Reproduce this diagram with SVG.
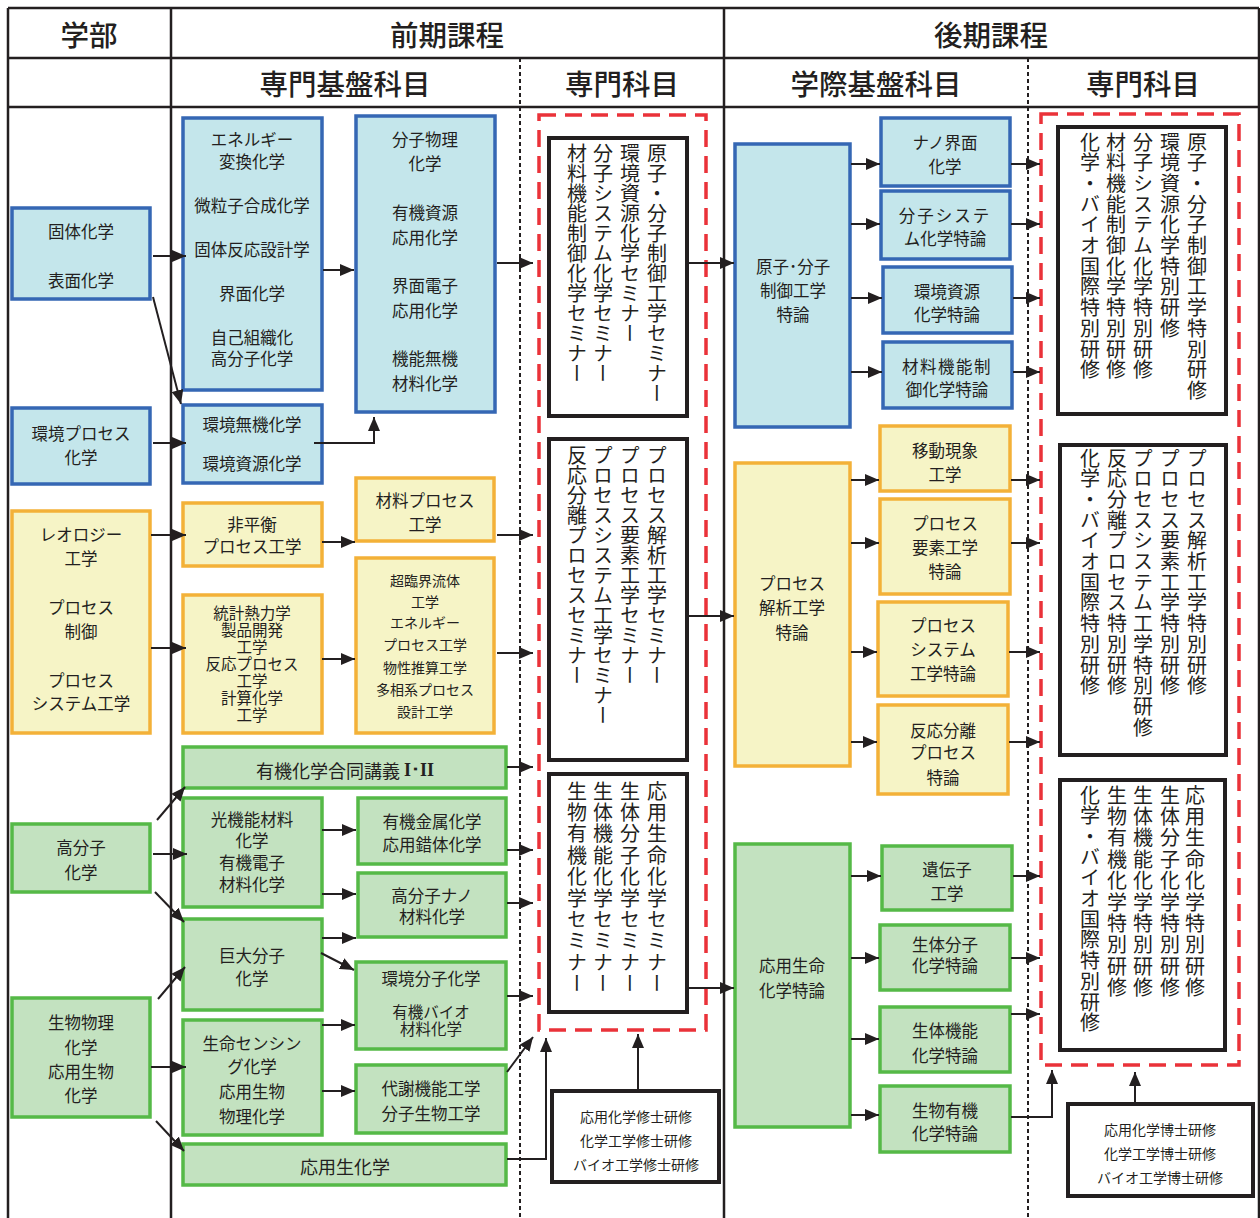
<svg xmlns="http://www.w3.org/2000/svg" width="1260" height="1218" viewBox="0 0 1260 1218">
<style>
text{font-family:"Noto Sans CJK JP","Noto Sans",sans-serif;fill:#231f20;}
.h{font-size:28.5px;font-weight:500;text-anchor:middle;dominant-baseline:central;}
.t{font-size:16.5px;text-anchor:middle;dominant-baseline:central;}
.tt{font-size:15.5px;text-anchor:middle;dominant-baseline:central;}
.s{font-size:14px;text-anchor:middle;dominant-baseline:central;}
.l{font-size:18px;text-anchor:middle;dominant-baseline:central;}
.vt{font-size:20px;writing-mode:vertical-rl;}
.vt2{font-size:20px;writing-mode:vertical-rl;letter-spacing:0.7px;}
.grid{stroke:#231f20;stroke-width:2.5;fill:none;}
.dot{stroke:#231f20;stroke-width:2;stroke-dasharray:4 3;fill:none;}
.blue{fill:#c4e6eb;stroke:#3567b4;stroke-width:3.5;}
.or{fill:#f6f4c6;stroke:#f3b138;stroke-width:3.5;}
.gr{fill:#c3e2c0;stroke:#55b947;stroke-width:3.5;}
.bk{fill:#fff;stroke:#231f20;stroke-width:4;}
.red{fill:none;stroke:#ea3239;stroke-width:3.5;stroke-dasharray:17 9;}
.c path{fill:none;stroke:#231f20;stroke-width:2;marker-end:url(#ah);}
</style>
<defs>
<marker id="ah" viewBox="0 0 14 12" refX="14" refY="6" markerWidth="14" markerHeight="12" markerUnits="userSpaceOnUse" orient="auto"><path d="M0,0 L14,6 L0,12 z" fill="#231f20"/></marker>
</defs>
<rect width="1260" height="1218" fill="#fff"/>
<g id="table">
<path class="grid" d="M8,8 V1218 M1259,8 V1218 M8,8 H1259 M8,58 H1259 M8,107 H1259 M171,8 V1218 M724,8 V1218"/>
<path class="dot" d="M520,58 V1218 M1028,58 V1218"/>
<text class="h" x="89" y="33">学部</text>
<text class="h" x="447" y="33">前期課程</text>
<text class="h" x="991" y="33">後期課程</text>
<text class="h" x="345" y="82">専門基盤科目</text>
<text class="h" x="622" y="82">専門科目</text>
<text class="h" x="876" y="82">学際基盤科目</text>
<text class="h" x="1143" y="82">専門科目</text>
</g>
<g id="n-kotai"><rect class="blue" x="12" y="208" width="138" height="91"/><text class="t" x="81" y="231">固体化学</text><text class="t" x="81" y="280">表面化学</text></g>
<g id="n-kankyoproc"><rect class="blue" x="12" y="408" width="138" height="76"/><text class="t" x="81" y="433">環境プロセス</text><text class="t" x="81" y="457">化学</text></g>
<g id="n-rheo"><rect class="or" x="12" y="511" width="138" height="222"/><text class="t" x="81" y="534">レオロジー</text><text class="t" x="81" y="558">工学</text><text class="t" x="81" y="607">プロセス</text><text class="t" x="81" y="631">制御</text><text class="t" x="81" y="680">プロセス</text><text class="t" x="81" y="703">システム工学</text></g>
<g id="n-kobunshi"><rect class="gr" x="12" y="824" width="138" height="68"/><text class="t" x="81" y="847">高分子</text><text class="t" x="81" y="872">化学</text></g>
<g id="n-seibutsu"><rect class="gr" x="12" y="998" width="138" height="119"/><text class="t" x="81" y="1022">生物物理</text><text class="t" x="81" y="1047">化学</text><text class="t" x="81" y="1071">応用生物</text><text class="t" x="81" y="1095">化学</text></g>

<g id="n-energy"><rect class="blue" x="183" y="118" width="139" height="272"/><text class="t" x="252" y="139">エネルギー</text><text class="t" x="252" y="161">変換化学</text><text class="t" x="252" y="205">微粒子合成化学</text><text class="t" x="252" y="249">固体反応設計学</text><text class="t" x="252" y="293">界面化学</text><text class="t" x="252" y="337">自己組織化</text><text class="t" x="252" y="358">高分子化学</text></g>
<g id="n-kankyomuki"><rect class="blue" x="183" y="405" width="139" height="78"/><text class="t" x="252" y="424">環境無機化学</text><text class="t" x="252" y="463">環境資源化学</text></g>
<g id="n-hiheiko"><rect class="or" x="183" y="503" width="139" height="63"/><text class="t" x="252" y="524">非平衡</text><text class="t" x="252" y="546">プロセス工学</text></g>
<g id="n-tokei"><rect class="or" x="183" y="595" width="139" height="138"/><text class="tt" x="252" y="612">統計熱力学</text><text class="tt" x="252" y="629">製品開発</text><text class="tt" x="252" y="646">工学</text><text class="tt" x="252" y="663">反応プロセス</text><text class="tt" x="252" y="680">工学</text><text class="tt" x="252" y="697">計算化学</text><text class="tt" x="252" y="714">工学</text></g>
<g id="n-yuki-godo"><rect class="gr" x="183" y="747" width="323" height="41"/><text class="l" x="345" y="770">有機化学合同講義 <tspan style="font-family:'Liberation Serif',serif;font-weight:bold">I･II</tspan></text></g>
<g id="n-hikari"><rect class="gr" x="183" y="798" width="139" height="109"/><text class="t" x="252" y="819">光機能材料</text><text class="t" x="252" y="840">化学</text><text class="t" x="252" y="862">有機電子</text><text class="t" x="252" y="884">材料化学</text></g>
<g id="n-kyodai"><rect class="gr" x="183" y="919" width="139" height="91"/><text class="t" x="252" y="955">巨大分子</text><text class="t" x="252" y="978">化学</text></g>
<g id="n-seimei"><rect class="gr" x="183" y="1020" width="139" height="115"/><text class="t" x="252" y="1043">生命センシン</text><text class="t" x="252" y="1066">グ化学</text><text class="t" x="252" y="1091">応用生物</text><text class="t" x="252" y="1116">物理化学</text></g>
<g id="n-oyoseika"><rect class="gr" x="183" y="1144" width="323" height="41"/><text class="l" x="345" y="1166">応用生化学</text></g>

<g id="n-bunshibutsuri"><rect class="blue" x="356" y="116" width="139" height="296"/><text class="t" x="425" y="139">分子物理</text><text class="t" x="425" y="163">化学</text><text class="t" x="425" y="212">有機資源</text><text class="t" x="425" y="237">応用化学</text><text class="t" x="425" y="285">界面電子</text><text class="t" x="425" y="310">応用化学</text><text class="t" x="425" y="358">機能無機</text><text class="t" x="425" y="383">材料化学</text></g>
<g id="n-zairyoproc"><rect class="or" x="356" y="478" width="138" height="63"/><text class="t" x="425" y="500">材料プロセス</text><text class="t" x="425" y="524">工学</text></g>
<g id="n-chorinkai"><rect class="or" x="356" y="558" width="138" height="175"/><text class="s" x="425" y="580">超臨界流体</text><text class="s" x="425" y="601">工学</text><text class="s" x="425" y="622">エネルギー</text><text class="s" x="425" y="644">プロセス工学</text><text class="s" x="425" y="667">物性推算工学</text><text class="s" x="425" y="689">多相系プロセス</text><text class="s" x="425" y="711">設計工学</text></g>
<g id="n-yukikinzoku"><rect class="gr" x="358" y="798" width="148" height="66"/><text class="t" x="432" y="821">有機金属化学</text><text class="t" x="432" y="844">応用錯体化学</text></g>
<g id="n-kobunshinano"><rect class="gr" x="358" y="873" width="148" height="64"/><text class="t" x="432" y="895">高分子ナノ</text><text class="t" x="432" y="916">材料化学</text></g>
<g id="n-kankyobunshi"><rect class="gr" x="356" y="962" width="150" height="87"/><text class="t" x="431" y="978">環境分子化学</text><text class="tt" x="431" y="1011">有機バイオ</text><text class="tt" x="431" y="1028">材料化学</text></g>
<g id="n-taisha"><rect class="gr" x="356" y="1065" width="150" height="68"/><text class="t" x="431" y="1088">代謝機能工学</text><text class="t" x="431" y="1113">分子生物工学</text></g>

<g id="g-senmon1"><rect class="red" x="539" y="115" width="167" height="915"/></g>
<g id="n-seminar1"><rect class="bk" x="549" y="138" width="138" height="278"/><text class="vt" x="657" y="143">原子・分子制御工学セミナー</text><text class="vt" x="630" y="143">環境資源化学セミナー</text><text class="vt" x="603" y="143">分子システム化学セミナー</text><text class="vt" x="577" y="143">材料機能制御化学セミナー</text></g>
<g id="n-seminar2"><rect class="bk" x="549" y="439" width="138" height="321"/><text class="vt" x="657" y="445">プロセス解析工学セミナー</text><text class="vt" x="630" y="445">プロセス要素工学セミナー</text><text class="vt" x="603" y="445">プロセスシステム工学セミナー</text><text class="vt" x="577" y="445">反応分離プロセスセミナー</text></g>
<g id="n-seminar3"><rect class="bk" x="549" y="774" width="138" height="238"/><text class="vt" x="657" y="781" style="letter-spacing:1.4px">応用生命化学セミナー</text><text class="vt" x="630" y="781" style="letter-spacing:1.4px">生体分子化学セミナー</text><text class="vt" x="603" y="781" style="letter-spacing:1.4px">生体機能化学セミナー</text><text class="vt" x="577" y="781" style="letter-spacing:1.4px">生物有機化学セミナー</text></g>
<g id="n-shushi"><rect class="bk" x="552" y="1091" width="167" height="91"/><text class="s" x="636" y="1116">応用化学修士研修</text><text class="s" x="636" y="1140">化学工学修士研修</text><text class="s" x="636" y="1164">バイオ工学修士研修</text></g>

<g id="n-genshi-toku"><rect class="blue" x="735" y="144" width="115" height="283"/><text class="t" x="793" y="266">原子･分子</text><text class="t" x="793" y="290">制御工学</text><text class="t" x="793" y="314">特論</text></g>
<g id="n-process-toku"><rect class="or" x="735" y="463" width="115" height="303"/><text class="t" x="792" y="583">プロセス</text><text class="t" x="792" y="607">解析工学</text><text class="t" x="792" y="632">特論</text></g>
<g id="n-oyoseimei-toku"><rect class="gr" x="735" y="844" width="115" height="283"/><text class="t" x="792" y="965">応用生命</text><text class="t" x="792" y="990">化学特論</text></g>

<g id="n-nano"><rect class="blue" x="881" y="118" width="129" height="68"/><text class="t" x="945" y="142">ナノ界面</text><text class="t" x="945" y="166">化学</text></g>
<g id="n-bunshisys"><rect class="blue" x="881" y="191" width="129" height="68"/><text class="t" x="945" y="215" style="letter-spacing:2px">分子システ</text><text class="t" x="945" y="238">ム化学特論</text></g>
<g id="n-kankyoshigen"><rect class="blue" x="883" y="267" width="129" height="66"/><text class="t" x="947" y="291">環境資源</text><text class="t" x="947" y="314">化学特論</text></g>
<g id="n-zairyokino"><rect class="blue" x="883" y="342" width="129" height="66"/><text class="t" x="947" y="366" style="letter-spacing:1.5px">材料機能制</text><text class="t" x="947" y="389">御化学特論</text></g>
<g id="n-ido"><rect class="or" x="880" y="426" width="130" height="65"/><text class="t" x="945" y="450">移動現象</text><text class="t" x="945" y="474">工学</text></g>
<g id="n-yoso"><rect class="or" x="880" y="499" width="130" height="95"/><text class="t" x="945" y="523">プロセス</text><text class="t" x="945" y="547">要素工学</text><text class="t" x="945" y="571">特論</text></g>
<g id="n-system"><rect class="or" x="878" y="602" width="130" height="94"/><text class="t" x="943" y="625">プロセス</text><text class="t" x="943" y="649">システム</text><text class="t" x="943" y="673">工学特論</text></g>
<g id="n-hanno"><rect class="or" x="878" y="705" width="130" height="89"/><text class="t" x="943" y="730">反応分離</text><text class="t" x="943" y="752">プロセス</text><text class="t" x="943" y="777">特論</text></g>
<g id="n-idenshi"><rect class="gr" x="882" y="846" width="130" height="64"/><text class="t" x="947" y="869">遺伝子</text><text class="t" x="947" y="893">工学</text></g>
<g id="n-seitaibunshi"><rect class="gr" x="880" y="925" width="130" height="65"/><text class="t" x="945" y="944">生体分子</text><text class="t" x="945" y="965">化学特論</text></g>
<g id="n-seitaikino"><rect class="gr" x="880" y="1007" width="130" height="65"/><text class="t" x="945" y="1030">生体機能</text><text class="t" x="945" y="1055">化学特論</text></g>
<g id="n-seibutsuyuki"><rect class="gr" x="880" y="1086" width="130" height="66"/><text class="t" x="945" y="1110">生物有機</text><text class="t" x="945" y="1133">化学特論</text></g>

<g id="g-senmon2"><rect class="red" x="1041" y="114" width="198" height="951"/></g>
<g id="n-kenshu1"><rect class="bk" x="1058" y="127" width="168" height="287"/><text class="vt2" x="1197" y="132">原子・分子制御工学特別研修</text><text class="vt2" x="1170" y="132">環境資源化学特別研修</text><text class="vt2" x="1143" y="132">分子システム化学特別研修</text><text class="vt2" x="1116" y="132">材料機能制御化学特別研修</text><text class="vt2" x="1090" y="132">化学・バイオ国際特別研修</text></g>
<g id="n-kenshu2"><rect class="bk" x="1060" y="445" width="166" height="310"/><text class="vt2" x="1197" y="448">プロセス解析工学特別研修</text><text class="vt2" x="1170" y="448">プロセス要素工学特別研修</text><text class="vt2" x="1143" y="448">プロセスシステム工学特別研修</text><text class="vt2" x="1117" y="448">反応分離プロセス特別研修</text><text class="vt2" x="1090" y="448">化学・バイオ国際特別研修</text></g>
<g id="n-kenshu3"><rect class="bk" x="1060" y="780" width="165" height="270"/><text class="vt2" x="1195" y="785" style="letter-spacing:1.4px">応用生命化学特別研修</text><text class="vt2" x="1170" y="785" style="letter-spacing:1.4px">生体分子化学特別研修</text><text class="vt2" x="1143" y="785" style="letter-spacing:1.4px">生体機能化学特別研修</text><text class="vt2" x="1117" y="785" style="letter-spacing:1.4px">生物有機化学特別研修</text><text class="vt2" x="1090" y="785">化学・バイオ国際特別研修</text></g>
<g id="n-hakase"><rect class="bk" x="1068" y="1104" width="185" height="92"/><text class="s" x="1160" y="1129">応用化学博士研修</text><text class="s" x="1160" y="1153">化学工学博士研修</text><text class="s" x="1160" y="1177">バイオ工学博士研修</text></g>

<g id="connectors" class="c">
<path d="M153,256 H186"/>
<path d="M153,297 L181,404"/>
<path d="M323,270 H354"/>
<path d="M497,263 H533"/>
<path d="M688,263 H734"/>
<path d="M153,443 H186"/>
<path d="M314,443 H374 V417"/>
<path d="M151,535 H186"/>
<path d="M151,648 H186"/>
<path d="M322,542 H355"/>
<path d="M322,659 H355"/>
<path d="M497,535 H533"/>
<path d="M497,653 H533"/>
<path d="M507,767 H533"/>
<path d="M157,820 L185,787"/>
<path d="M153,854 H187"/>
<path d="M155,892 L184,922"/>
<path d="M158,999 L185,967"/>
<path d="M151,1067 H186"/>
<path d="M156,1121 L184,1151"/>
<path d="M322,830 H356"/>
<path d="M322,894 H356"/>
<path d="M322,938 H356"/>
<path d="M321,953 L354,970"/>
<path d="M322,1025 H355"/>
<path d="M322,1091 H355"/>
<path d="M507,850 H533"/>
<path d="M507,903 H533"/>
<path d="M507,996 H533"/>
<path d="M507,1072 L533,1037"/>
<path d="M507,1159 H546 V1038"/>
<path d="M638,1090 V1034"/>
<path d="M688,616 H734"/>
<path d="M688,988 H734"/>
<path d="M851,164 H880"/>
<path d="M851,224 H880"/>
<path d="M851,298 H882"/>
<path d="M851,372 H882"/>
<path d="M1011,164 H1040"/>
<path d="M1011,224 H1040"/>
<path d="M1013,298 H1040"/>
<path d="M1013,372 H1040"/>
<path d="M851,480 H879"/>
<path d="M851,543 H879"/>
<path d="M851,652 H877"/>
<path d="M851,742 H877"/>
<path d="M1011,480 H1040"/>
<path d="M1011,543 H1040"/>
<path d="M1009,652 H1040"/>
<path d="M1009,742 H1040"/>
<path d="M851,876 H881"/>
<path d="M851,958 H879"/>
<path d="M851,1039 H879"/>
<path d="M851,1115 H879"/>
<path d="M1013,876 H1040"/>
<path d="M1011,958 H1040"/>
<path d="M1011,1014 H1040"/>
<path d="M1011,1117 H1052 V1070"/>
<path d="M1135,1103 V1072"/>
</g>
</svg>
